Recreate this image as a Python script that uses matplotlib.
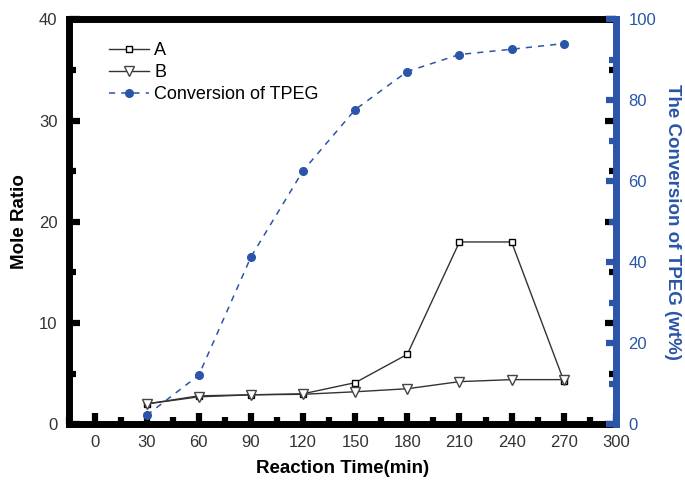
import numpy as np
import matplotlib
matplotlib.use("Agg")
import matplotlib.pyplot as plt
from matplotlib.ticker import MultipleLocator

plt.rcParams['font.family'] = ['Liberation Sans', 'DejaVu Sans']

# data
time_min = [30, 60, 90, 120, 150, 180, 210, 240, 270]
ratio_a = [2.0, 2.8, 2.9, 3.0, 4.1, 6.9, 18.0, 18.0, 4.3]
ratio_b = [2.0, 2.7, 2.9, 2.95, 3.2, 3.5, 4.2, 4.4, 4.4]
conversion = [2.2, 12.1, 41.3, 62.6, 77.7, 87.1, 91.3, 92.6, 94.0]

blue = '#2a55a8'
grey_txt = '#333333'

fig = plt.figure(figsize=(6.85, 4.82), dpi=100)
ax = fig.add_axes([0.100, 0.120, 0.799, 0.840])
ax2 = ax.twinx()

l1, = ax.plot(time_min, ratio_a, color='#333333', lw=1.0, marker='s', ms=5,
              mfc='white', mec='black', mew=1.0, label='A')
l2, = ax.plot(time_min, ratio_b, color='#333333', lw=1.0, marker='v', ms=7,
              mfc='white', mec='#444444', mew=1.0, label='B')
l3, = ax2.plot(time_min, conversion, color=blue, lw=1.1, ls=(0, (4, 4)),
               marker='o', ms=5.5, mfc=blue, mec=blue, label='Conversion of TPEG')

ax.set_xlim(-15, 300)
ax.set_ylim(0, 40)
ax2.set_ylim(0, 100)

ax.xaxis.set_major_locator(MultipleLocator(30))
ax.xaxis.set_minor_locator(MultipleLocator(15))
ax.yaxis.set_major_locator(MultipleLocator(10))
ax.yaxis.set_minor_locator(MultipleLocator(5))
ax2.yaxis.set_major_locator(MultipleLocator(20))
ax2.yaxis.set_minor_locator(MultipleLocator(10))

for sp in ['left', 'bottom', 'top']:
    ax.spines[sp].set_linewidth(5)
    ax.spines[sp].set_color('black')
ax.spines['right'].set_visible(False)
for sp in ['left', 'bottom', 'top']:
    ax2.spines[sp].set_visible(False)
ax2.spines['right'].set_linewidth(5)
ax2.spines['right'].set_color(blue)

ax.tick_params(axis='both', which='major', direction='in', length=8, width=4.5,
               top=False, right=True, labelsize=12, labelcolor=grey_txt, pad=8)
ax.tick_params(axis='both', which='minor', direction='in', length=5, width=4.5,
               top=False, right=True)
ax2.tick_params(axis='y', which='major', direction='in', length=7, width=4.5,
                color=blue, labelcolor=blue, labelsize=12, pad=9)
ax2.tick_params(axis='y', which='minor', direction='in', length=5, width=4.5,
                color=blue)

ax.set_xlabel('Reaction Time(min)', fontsize=13.5, fontweight='bold', labelpad=7)
ax.set_ylabel('Mole Ratio', fontsize=13.5, fontweight='bold', labelpad=8)
ax2.set_ylabel('The Conversion of TPEG (wt%)', fontsize=13.5, fontweight='bold',
               color=blue, rotation=-90, labelpad=18)

ax2.legend(handles=[l1, l2, l3], loc='upper left', frameon=False, fontsize=13,
           bbox_to_anchor=(0.054, 0.97), handlelength=2.2, handletextpad=0.3,
           labelspacing=0.28, borderaxespad=0.2)

fig.savefig('out.png', dpi=100)
